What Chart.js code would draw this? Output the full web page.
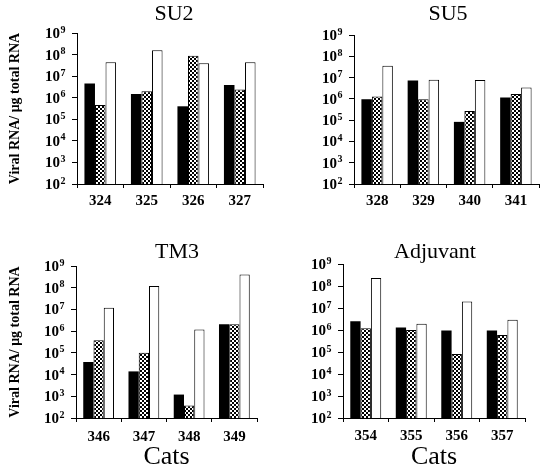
<!DOCTYPE html>
<html>
<head>
<meta charset="utf-8">
<script src="https://cdn.jsdelivr.net/npm/chart.js@4"></script>
<style>
  body { margin: 0; background: #fff; }
  #wrap { position: relative; width: 544px; height: 475px; }
  canvas { position: absolute; }
</style>
</head>
<body>
<div id="wrap">
  <canvas id="su2" width="272" height="230" style="left:0;top:0"></canvas>
  <canvas id="su5" width="272" height="230" style="left:272px;top:0"></canvas>
  <canvas id="tm3" width="272" height="245" style="left:0;top:230px"></canvas>
  <canvas id="adj" width="272" height="245" style="left:272px;top:230px"></canvas>
</div>
<script>
// cats per group
var su2Cats = ['324', '325', '326', '327'];
var su5Cats = ['328', '329', '340', '341'];
var tm3Cats = ['346', '347', '348', '349'];
var adjCats = ['354', '355', '356', '357'];

// viral RNA per ug total RNA (black / checked / white bars)
var su2Black = [4.5e6, 1.5e6, 4.0e5, 3.9e6];
var su2Checked = [4.6e5, 2.0e6, 8.8e7, 2.4e6];
var su2White = [4.4e7, 1.6e8, 4.0e7, 4.4e7];

var su5Black = [9.6e5, 7.2e6, 8.3e4, 1.15e6];
var su5Checked = [1.3e6, 9.6e5, 2.7e5, 1.7e6];
var su5White = [3.6e7, 7.8e6, 7.6e6, 3.4e6];

var tm3Black = [3.8e4, 1.4e4, 1.2e3, 2.1e6];
var tm3Checked = [3.8e5, 1.0e5, 380, 2.1e6];
var tm3White = [1.2e7, 1.2e8, 1.2e6, 4.1e8];

var adjBlack = [2.5e6, 1.3e6, 9.4e5, 9.4e5];
var adjChecked = [1.2e6, 1.0e6, 8.1e4, 5.9e5];
var adjWhite = [2.3e8, 1.9e6, 2.0e7, 2.9e6];

var yTickPowers = [2, 3, 4, 5, 6, 7, 8, 9];

var serif = "'Liberation Serif', 'Times New Roman', serif";

// checkered fill
var pc = document.createElement('canvas');
pc.width = 4; pc.height = 4;
var px = pc.getContext('2d');
px.fillStyle = '#fff';
px.fillRect(0, 0, 4, 4);
px.fillStyle = '#000';
px.fillRect(0, 0, 2, 2);
px.fillRect(2, 2, 2, 2);

var panelTitle = {
    id: 'panelTitle',
    afterDraw: function(chart, args, opts) {
        var c = chart.ctx;
        c.save();
        c.font = '22px ' + serif;
        c.fillStyle = '#000';
        c.textAlign = 'center';
        c.textBaseline = 'middle';
        c.fillText(opts.text, opts.x, opts.y);
        c.restore();
    }
};

// 10 with a raised exponent, drawn next to each log tick
var powerLabels = {
    id: 'powerLabels',
    afterDraw: function(chart) {
        var s = chart.scales.y;
        var c = chart.ctx;
        var right = s.right - 12;
        c.save();
        c.fillStyle = '#000';
        c.textAlign = 'left';
        c.textBaseline = 'alphabetic';
        s.ticks.forEach(function(t) {
            var y = s.getPixelForValue(t.value);
            var e = String(Math.round(Math.log10(t.value)));
            c.font = 'bold 10px ' + serif;
            var ew = c.measureText(e).width;
            c.font = 'bold 15px ' + serif;
            var bw = c.measureText('10').width;
            var x0 = right - ew - bw;
            c.fillText('10', x0, y + 5);
            c.font = 'bold 10px ' + serif;
            c.fillText(e, x0 + bw + 0.5, y - 0.5);
        });
        c.restore();
    }
};

function makePanel(id, title, cats, black, checked, white, p) {
    var ctx = document.getElementById(id).getContext('2d');
    var pattern = ctx.createPattern(pc, 'repeat');
    return new Chart(ctx, {
        type: 'bar',
        data: {
            labels: cats,
            datasets: [
                { data: black, backgroundColor: '#000', borderWidth: 0 },
                { data: checked, backgroundColor: pattern, borderColor: '#000', borderWidth: 1 },
                { data: white, backgroundColor: '#fff', borderColor: '#000', borderWidth: 1 }
            ]
        },
        plugins: [panelTitle, powerLabels],
        options: {
            responsive: false,
            animation: false,
            devicePixelRatio: 1,
            categoryPercentage: 0.68,
            barPercentage: 1.0,
            layout: { padding: { left: 0, top: p.top, right: p.right, bottom: 0 } },
            plugins: {
                legend: { display: false },
                tooltip: { enabled: false },
                panelTitle: { text: title, x: p.tx, y: p.ty }
            },
            scales: {
                x: {
                    grid: { display: true, drawOnChartArea: false, drawTicks: true, tickLength: 4, color: '#000' },
                    border: { display: true, color: '#000', width: 1 },
                    ticks: { color: '#000', padding: p.xpad, font: { family: serif, size: 15, weight: 'bold' } },
                    title: {
                        display: p.cats,
                        text: 'Cats',
                        color: '#000',
                        padding: { top: 0, bottom: 2 },
                        font: { family: serif, size: 26 }
                    },
                    afterFit: function(s) { s.height = p.xh; }
                },
                y: {
                    type: 'logarithmic',
                    min: 100,
                    max: 1e9,
                    grid: { display: true, drawOnChartArea: false, drawTicks: true, tickLength: 5, color: '#000' },
                    border: { display: true, color: '#000', width: 1 },
                    ticks: {
                        color: 'rgba(0,0,0,0)',
                        padding: 2,
                        font: { family: serif, size: 15, weight: 'bold' },
                        callback: function(v) { return '10^' + Math.round(Math.log10(v)); }
                    },
                    afterBuildTicks: function(s) {
                        s.ticks = yTickPowers.map(function(e) { return { value: Math.pow(10, e) }; });
                    },
                    title: {
                        display: p.ytitle,
                        text: 'Viral RNA/ \u03BCg total RNA',
                        color: '#000',
                        padding: { top: 7, bottom: 0 },
                        font: { family: serif, size: 14, weight: 'bold' }
                    },
                    afterFit: function(s) { s.width = p.yw; }
                }
            }
        }
    });
}

makePanel('su2', 'SU2', su2Cats, su2Black, su2Checked, su2White,
    { top: 33, right: 9, yw: 77, xh: 46, xpad: 4, tx: 174, ty: 14, ytitle: true, cats: false });
makePanel('su5', 'SU5', su5Cats, su5Black, su5Checked, su5White,
    { top: 35, right: 5, yw: 82, xh: 46, xpad: 4, tx: 176, ty: 14, ytitle: false, cats: false });
makePanel('tm3', 'TM3', tm3Cats, tm3Black, tm3Checked, tm3White,
    { top: 36, right: 15, yw: 76, xh: 57, xpad: 6, tx: 177, ty: 22, ytitle: true, cats: true });
makePanel('adj', 'Adjuvant', adjCats, adjBlack, adjChecked, adjWhite,
    { top: 34, right: 19, yw: 71, xh: 57, xpad: 5, tx: 163, ty: 22, ytitle: false, cats: true });
</script>
</body>
</html>
